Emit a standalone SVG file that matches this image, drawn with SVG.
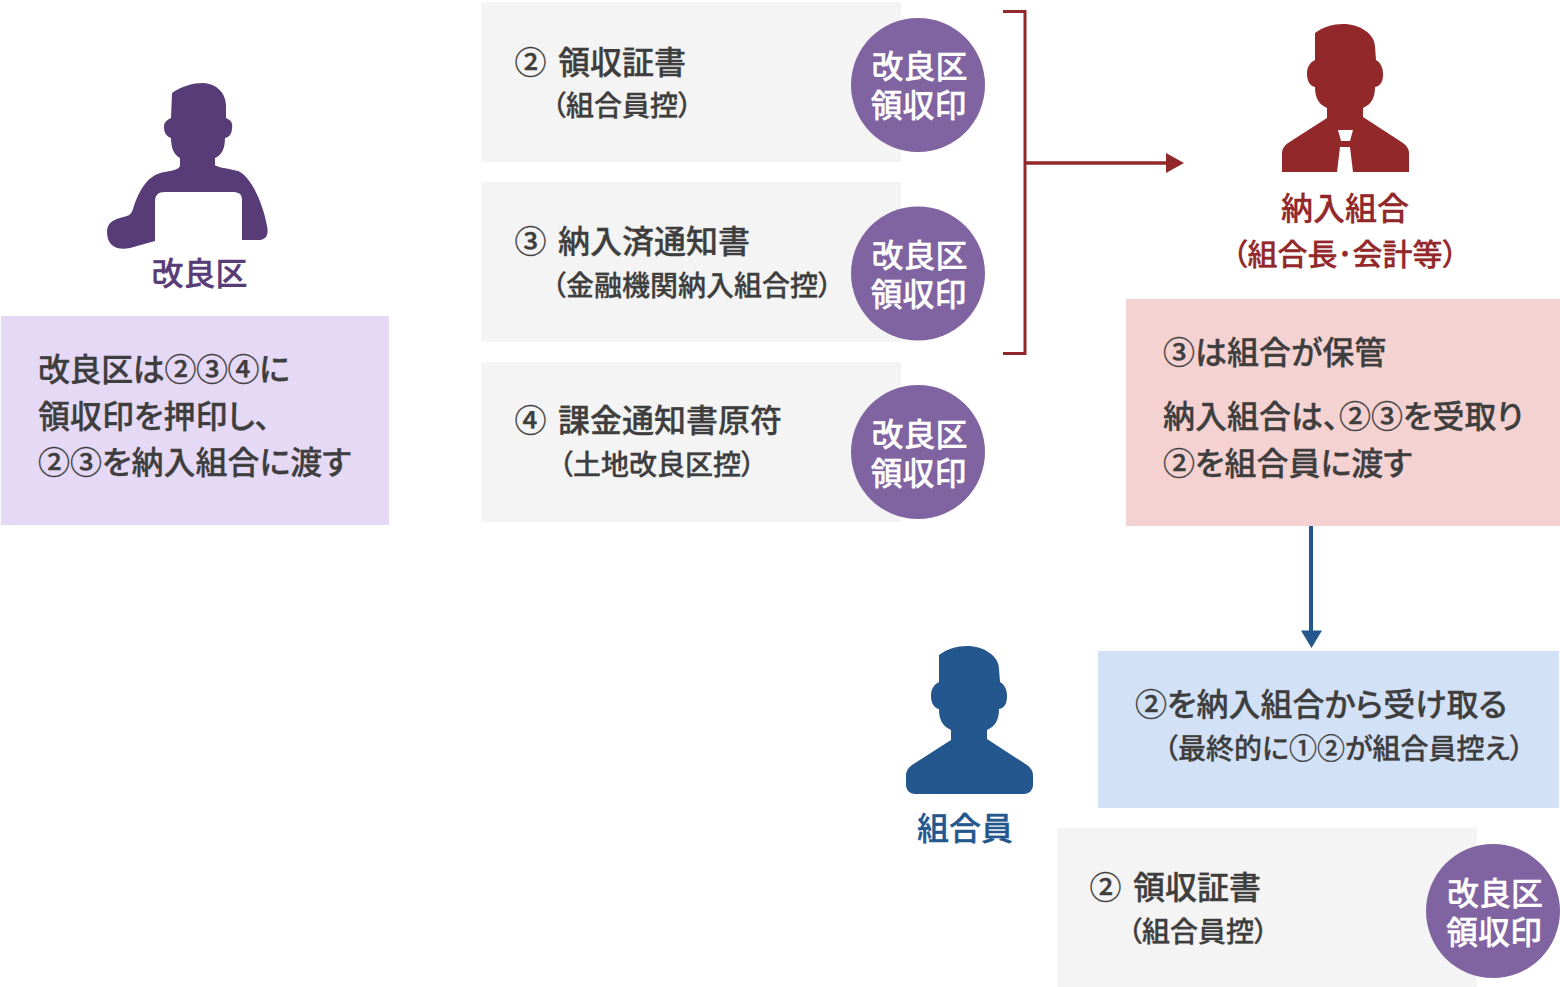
<svg xmlns="http://www.w3.org/2000/svg" width="1560" height="987" viewBox="0 0 1560 987">
<style>
text{font-family:"Noto Sans CJK JP","Noto Sans",sans-serif;font-weight:500;font-feature-settings:"palt";stroke-width:.3}
.t{font-size:32px;fill:#3e3e3e;stroke:#3e3e3e}
.s{font-size:28px;fill:#3e3e3e;stroke:#3e3e3e}
.st{font-size:32px;fill:#fff;stroke:#fff;text-anchor:middle;font-feature-settings:normal}
.c{fill:#8063a1}
.g{fill:#f4f4f4}
.p{fill:#583c77;stroke:#583c77}
.r{fill:#92282a;stroke:#92282a}
.b{fill:#25578f;stroke:#25578f}
</style>
<g id="box-left"><rect x="1" y="316" width="388" height="209" fill="#e6d9f5"/>
<text class="t" x="38" y="381" textLength="252">改良区は②③④に</text><text class="t" x="38" y="428">領収印を押印し、</text><text class="t" x="38" y="474">②③を納入組合に渡す</text></g>
<g id="kairyoku"><path fill="#583c77" d="M172 93C182 86 193 83 203 83C218 84 226 94 226 106L226 118C231 120 233 123 232 128C232 133 230 137 225 138C225 148 222 155 215 158L215 165C216 167 225 168 238 171C248 174 262 198 267 226C269 235 266 240 258 240L242 240L242 200C242 194 239 192 232 192L165 192C158 192 155 195 155 202L155 241L130 248C116 251 107 245 107 232C107 224 112 220 120 218C127 216 131 216 133 209C139 190 148 174 165 172C175 170 180 169 180 165L180 158C174 155 171 148 171 138C166 136 164 132 164 127C164 122 167 120 171 118Z"/>
<text class="p" x="199.500" y="285" font-size="32" text-anchor="middle">改良区</text></g>
<g id="card-2"><rect class="g" x="481" y="2" width="420" height="160"/><text class="t" x="514.500" y="74">②</text><text class="t" x="558" y="74">領収証書</text><text class="s" x="552" y="116">（組合員控）</text><circle class="c" cx="918" cy="85" r="67"/><text class="st" x="919.500" y="78">改良区</text><text class="st" x="918.500" y="117">領収印</text></g>
<g id="card-3"><rect class="g" x="481" y="182" width="420" height="160"/><text class="t" x="514.500" y="253">③</text><text class="t" x="558" y="253">納入済通知書</text><text class="s" x="552" y="296">（金融機関納入組合控）</text><circle class="c" cx="918" cy="273.500" r="67"/><text class="st" x="919.500" y="266.500">改良区</text><text class="st" x="918.500" y="305.500">領収印</text></g>
<g id="card-4"><rect class="g" x="481" y="362" width="420" height="160"/><text class="t" x="514.500" y="432">④</text><text class="t" x="558" y="432">課金通知書原符</text><text class="s" x="559" y="475">（土地改良区控）</text><circle class="c" cx="918" cy="452" r="67"/><text class="st" x="919.500" y="445.500">改良区</text><text class="st" x="918.500" y="484.500">領収印</text></g>
<g id="connectors" fill="none" stroke="#92282a" stroke-width="3">
<path d="M1003 11.500H1025V353.500H1003"/><path d="M1026 163H1168" stroke-width="3.500"/><path d="M1166 153L1184 163L1166 173Z" fill="#92282a" stroke="none"/>
<path d="M1311 526V632" stroke="#25578f" stroke-width="4"/><path d="M1301 630.500H1322L1311.500 648Z" fill="#25578f" stroke="none"/></g>
<g id="nounyu"><path fill="#92282a" d="M1315 33C1323 27 1333 24 1343 24C1360 24 1375 34 1375 47L1376 60C1381 63 1383 68 1383 74C1383 81 1381 86 1375 87C1375 97 1372 104 1363 108L1363 117L1403 143C1407 146 1409 149 1409 153L1409 172L1282 172L1282 153C1282 149 1284 146 1288 143L1327 118L1327 108C1318 104 1315 97 1315 87C1310 86 1307 81 1307 74C1307 68 1309 63 1315 60Z"/><path fill="#fff" d="M1338 130H1353L1350 141H1341ZM1340 147H1350L1353 172H1337Z"/>
<text class="r" x="1345" y="220" font-size="32" text-anchor="middle">納入組合</text><text class="r" x="1345" y="265" font-size="30" text-anchor="middle">（組合長･会計等）</text></g>
<g id="box-right"><rect x="1126" y="299" width="434" height="227" fill="#f5d2d2"/><text class="t" x="1163" y="364">③は組合が保管</text><text class="t" x="1163" y="428">納入組合は、②③を受取り</text><text class="t" x="1163" y="475">②を組合員に渡す</text></g>
<g id="kumiaiin"><path fill="#25578f" transform="translate(-376 622)" d="M1315 33C1323 27 1333 24 1343 24C1360 24 1375 34 1375 47L1376 60C1381 63 1383 68 1383 74C1383 81 1381 86 1375 87C1375 97 1372 104 1363 108L1363 117L1403 143C1407 146 1409 149 1409 153L1409 163C1409 168 1405 172 1400 172L1291 172C1286 172 1282 168 1282 163L1282 153C1282 149 1284 146 1288 143L1327 118L1327 108C1318 104 1315 97 1315 87C1310 86 1307 81 1307 74C1307 68 1309 63 1315 60Z"/><text class="b" x="965" y="840" font-size="32" text-anchor="middle">組合員</text></g>
<g id="box-blue"><rect x="1098" y="651" width="461" height="157" fill="#d2e1f6"/><text class="t" x="1135" y="716">②を納入組合から受け取る</text><text class="s" x="1164" y="759">（最終的に①②が組合員控え）</text></g>
<g id="card-member"><rect class="g" x="1057" y="828" width="420" height="159"/><text class="t" x="1089.500" y="899">②</text><text class="t" x="1133" y="899">領収証書</text><text class="s" x="1128" y="942">（組合員控）</text><circle class="c" cx="1493" cy="911" r="67"/><text class="st" x="1495" y="904.500">改良区</text><text class="st" x="1494" y="943.500">領収印</text></g>
</svg>
